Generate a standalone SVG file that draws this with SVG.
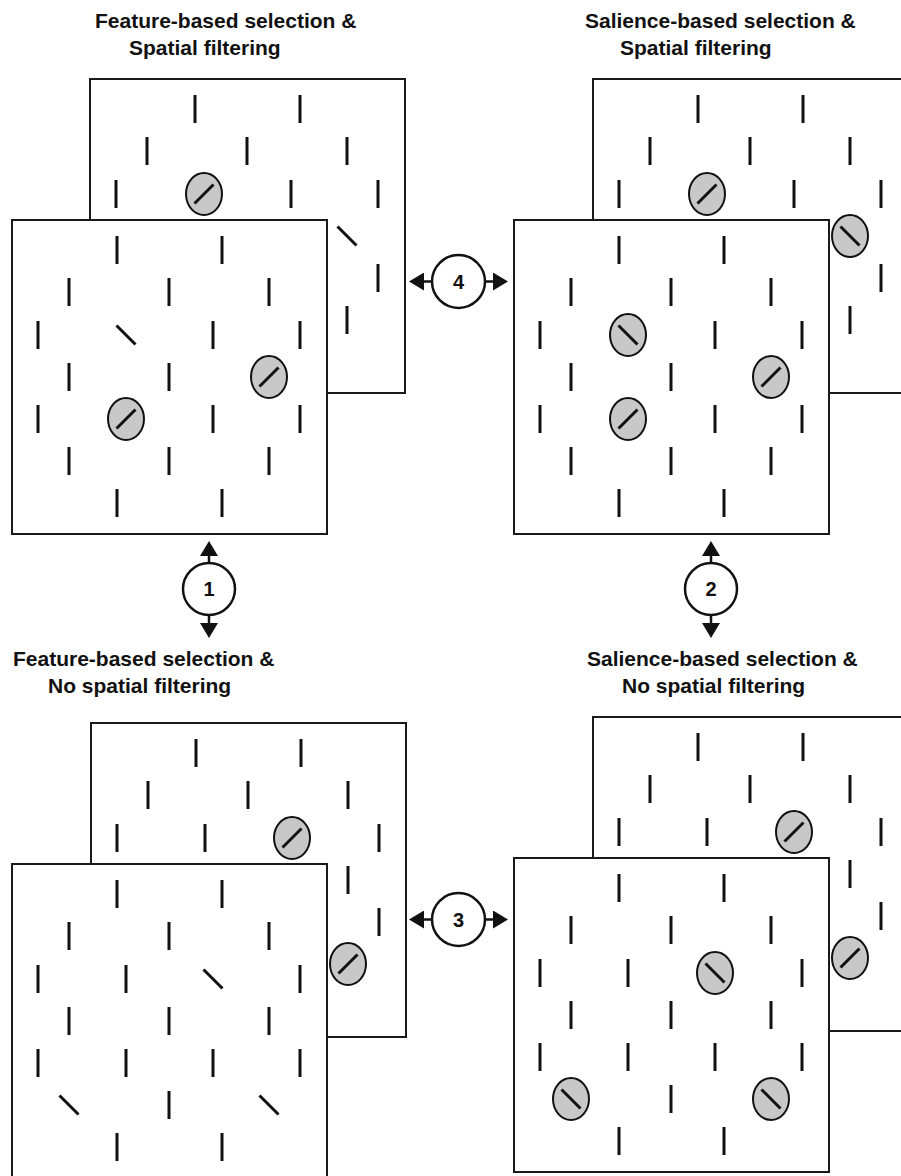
<svg xmlns="http://www.w3.org/2000/svg" xmlns:xlink="http://www.w3.org/1999/xlink" width="901" height="1176" viewBox="0 0 901 1176">
<style>
.panel{fill:#ffffff;stroke:#1a1a1a;stroke-width:2}
.bar{stroke:#111;stroke-width:3;fill:none}
.sel{fill:#c8c8c8;stroke:#111;stroke-width:2}
.title{font-family:"Liberation Sans",Arial,sans-serif;font-weight:bold;font-size:21px;fill:#111}
.num{font-family:"Liberation Sans",Arial,sans-serif;font-weight:bold;font-size:20px;fill:#111;text-anchor:middle}
.ring{fill:#ffffff;stroke:#111;stroke-width:2.5}
.conn{stroke:#111;stroke-width:2.5;fill:none}
</style>
<defs>
<g id="v"><line class="bar" x1="0" y1="-14" x2="0" y2="14"/></g>
<g id="d"><line class="bar" x1="-9.5" y1="-9.5" x2="9.5" y2="9.5"/></g>
<g id="es"><ellipse class="sel" cx="0" cy="0" rx="18" ry="21"/><line class="bar" x1="-9.5" y1="9.5" x2="9.5" y2="-9.5"/></g>
<g id="eb"><ellipse class="sel" cx="0" cy="0" rx="18" ry="21"/><line class="bar" x1="-9.5" y1="-9.5" x2="9.5" y2="9.5"/></g>
<marker id="ah" viewBox="0 0 15 18" refX="0" refY="9" markerWidth="15" markerHeight="18" markerUnits="userSpaceOnUse" orient="auto">
<path d="M0,0 L15,9 L0,18 z" fill="#111"/>
</marker>
</defs>

<g id="labels">
<text class="title" x="95" y="28">Feature-based selection &amp;</text>
<text class="title" x="129" y="55">Spatial filtering</text>
<text class="title" x="585" y="28">Salience-based selection &amp;</text>
<text class="title" x="620" y="55">Spatial filtering</text>
<text class="title" x="13" y="666">Feature-based selection &amp;</text>
<text class="title" x="48" y="693">No spatial filtering</text>
<text class="title" x="587" y="666">Salience-based selection &amp;</text>
<text class="title" x="622" y="693">No spatial filtering</text>
</g>

<!-- Top-left: back -->
<g id="tl-back" transform="translate(90,79)">
<rect class="panel" x="0" y="0" width="315" height="314"/>
<use href="#v" x="105" y="30"/><use href="#v" x="210" y="30"/>
<use href="#v" x="57" y="72"/><use href="#v" x="157" y="72"/><use href="#v" x="257" y="72"/>
<use href="#v" x="26" y="115"/><use href="#es" x="114" y="115"/><use href="#v" x="201" y="115"/><use href="#v" x="288" y="115"/>
<use href="#d" x="257" y="157"/>
<use href="#v" x="288" y="199"/>
<use href="#v" x="257" y="241"/>
</g>
<g id="tl-front" transform="translate(12,220)">
<rect class="panel" x="0" y="0" width="315" height="314"/>
<use href="#v" x="105" y="30"/><use href="#v" x="210" y="30"/>
<use href="#v" x="57" y="72"/><use href="#v" x="157" y="72"/><use href="#v" x="257" y="72"/>
<use href="#v" x="26" y="115"/><use href="#d" x="114" y="115"/><use href="#v" x="201" y="115"/><use href="#v" x="288" y="115"/>
<use href="#v" x="57" y="157"/><use href="#v" x="157" y="157"/><use href="#es" x="257" y="157"/>
<use href="#v" x="26" y="199"/><use href="#es" x="114" y="199"/><use href="#v" x="201" y="199"/><use href="#v" x="288" y="199"/>
<use href="#v" x="57" y="241"/><use href="#v" x="157" y="241"/><use href="#v" x="257" y="241"/>
<use href="#v" x="105" y="283"/><use href="#v" x="210" y="283"/>
</g>

<!-- Top-right -->
<g id="tr-back" transform="translate(593,79)">
<rect class="panel" x="0" y="0" width="315" height="314"/>
<use href="#v" x="105" y="30"/><use href="#v" x="210" y="30"/>
<use href="#v" x="57" y="72"/><use href="#v" x="157" y="72"/><use href="#v" x="257" y="72"/>
<use href="#v" x="26" y="115"/><use href="#es" x="114" y="115"/><use href="#v" x="201" y="115"/><use href="#v" x="288" y="115"/>
<use href="#eb" x="257" y="157"/>
<use href="#v" x="288" y="199"/>
<use href="#v" x="257" y="241"/>
</g>
<g id="tr-front" transform="translate(514,220)">
<rect class="panel" x="0" y="0" width="315" height="314"/>
<use href="#v" x="105" y="30"/><use href="#v" x="210" y="30"/>
<use href="#v" x="57" y="72"/><use href="#v" x="157" y="72"/><use href="#v" x="257" y="72"/>
<use href="#v" x="26" y="115"/><use href="#eb" x="114" y="115"/><use href="#v" x="201" y="115"/><use href="#v" x="288" y="115"/>
<use href="#v" x="57" y="157"/><use href="#v" x="157" y="157"/><use href="#es" x="257" y="157"/>
<use href="#v" x="26" y="199"/><use href="#es" x="114" y="199"/><use href="#v" x="201" y="199"/><use href="#v" x="288" y="199"/>
<use href="#v" x="57" y="241"/><use href="#v" x="157" y="241"/><use href="#v" x="257" y="241"/>
<use href="#v" x="105" y="283"/><use href="#v" x="210" y="283"/>
</g>

<!-- Bottom-left -->
<g id="bl-back" transform="translate(91,723)">
<rect class="panel" x="0" y="0" width="315" height="314"/>
<use href="#v" x="105" y="30"/><use href="#v" x="210" y="30"/>
<use href="#v" x="57" y="72"/><use href="#v" x="157" y="72"/><use href="#v" x="257" y="72"/>
<use href="#v" x="26" y="115"/><use href="#v" x="114" y="115"/><use href="#es" x="201" y="115"/><use href="#v" x="288" y="115"/>
<use href="#v" x="257" y="157"/>
<use href="#v" x="288" y="199"/>
<use href="#es" x="257" y="241"/>
</g>
<g id="bl-front" transform="translate(12,864)">
<rect class="panel" x="0" y="0" width="315" height="314"/>
<use href="#v" x="105" y="30"/><use href="#v" x="210" y="30"/>
<use href="#v" x="57" y="72"/><use href="#v" x="157" y="72"/><use href="#v" x="257" y="72"/>
<use href="#v" x="26" y="115"/><use href="#v" x="114" y="115"/><use href="#d" x="201" y="115"/><use href="#v" x="288" y="115"/>
<use href="#v" x="57" y="157"/><use href="#v" x="157" y="157"/><use href="#v" x="257" y="157"/>
<use href="#v" x="26" y="199"/><use href="#v" x="114" y="199"/><use href="#v" x="201" y="199"/><use href="#v" x="288" y="199"/>
<use href="#d" x="57" y="241"/><use href="#v" x="157" y="241"/><use href="#d" x="257" y="241"/>
<use href="#v" x="105" y="283"/><use href="#v" x="210" y="283"/>
</g>

<!-- Bottom-right -->
<g id="br-back" transform="translate(593,717)">
<rect class="panel" x="0" y="0" width="315" height="314"/>
<use href="#v" x="105" y="30"/><use href="#v" x="210" y="30"/>
<use href="#v" x="57" y="72"/><use href="#v" x="157" y="72"/><use href="#v" x="257" y="72"/>
<use href="#v" x="26" y="115"/><use href="#v" x="114" y="115"/><use href="#es" x="201" y="115"/><use href="#v" x="288" y="115"/>
<use href="#v" x="257" y="157"/>
<use href="#v" x="288" y="199"/>
<use href="#es" x="257" y="241"/>
</g>
<g id="br-front" transform="translate(514,858)">
<rect class="panel" x="0" y="0" width="315" height="314"/>
<use href="#v" x="105" y="30"/><use href="#v" x="210" y="30"/>
<use href="#v" x="57" y="72"/><use href="#v" x="157" y="72"/><use href="#v" x="257" y="72"/>
<use href="#v" x="26" y="115"/><use href="#v" x="114" y="115"/><use href="#eb" x="201" y="115"/><use href="#v" x="288" y="115"/>
<use href="#v" x="57" y="157"/><use href="#v" x="157" y="157"/><use href="#v" x="257" y="157"/>
<use href="#v" x="26" y="199"/><use href="#v" x="114" y="199"/><use href="#v" x="201" y="199"/><use href="#v" x="288" y="199"/>
<use href="#eb" x="57" y="241"/><use href="#v" x="157" y="241"/><use href="#eb" x="257" y="241"/>
<use href="#v" x="105" y="283"/><use href="#v" x="210" y="283"/>
</g>

<g id="connectors">
<line class="conn" x1="209" y1="563" x2="209" y2="556" marker-end="url(#ah)"/>
<line class="conn" x1="209" y1="615" x2="209" y2="623" marker-end="url(#ah)"/>
<line class="conn" x1="711" y1="563" x2="711" y2="556" marker-end="url(#ah)"/>
<line class="conn" x1="711" y1="615" x2="711" y2="623" marker-end="url(#ah)"/>
<line class="conn" x1="432" y1="281.5" x2="424" y2="281.5" marker-end="url(#ah)"/>
<line class="conn" x1="485" y1="281.5" x2="493" y2="281.5" marker-end="url(#ah)"/>
<line class="conn" x1="432" y1="919.5" x2="424" y2="919.5" marker-end="url(#ah)"/>
<line class="conn" x1="485" y1="919.5" x2="493" y2="919.5" marker-end="url(#ah)"/>
</g>

<g id="c1"><circle class="ring" cx="209" cy="589" r="26"/><text class="num" x="209" y="596">1</text></g>
<g id="c2"><circle class="ring" cx="711" cy="589" r="26"/><text class="num" x="711" y="596">2</text></g>
<g id="c4"><circle class="ring" cx="458.5" cy="281.5" r="26.5"/><text class="num" x="458.5" y="288.5">4</text></g>
<g id="c3"><circle class="ring" cx="458.5" cy="919.5" r="26.5"/><text class="num" x="458.5" y="926.5">3</text></g>
</svg>
